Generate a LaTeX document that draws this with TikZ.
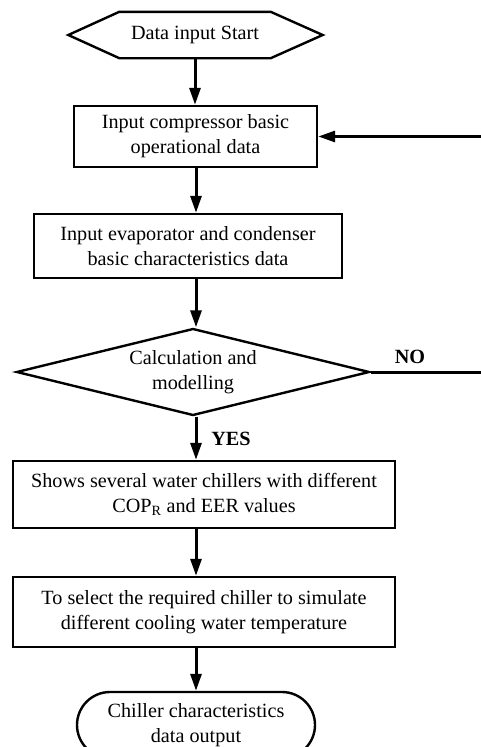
\documentclass[tikz,border=0pt]{standalone}
\usepackage{fontspec}
\setmainfont{Liberation Serif}
\usetikzlibrary{shapes.geometric,shapes.misc,arrows.meta,calc}
\begin{document}
\begin{tikzpicture}[x=1pt,y=-1pt,
  txt/.style={font=\fontsize{20.2}{25}\selectfont},
  box/.style={txt,draw,line width=2.4pt,align=center,inner sep=0pt},
  ar/.style={line width=3pt,-{Triangle[length=17pt,width=11pt]}},
  lbl/.style={font=\fontsize{20.2}{25}\selectfont\bfseries}]
\clip (0,0) rectangle (481,747);
\fill[white] (0,0) rectangle (481,747);
% start hexagon
\node[txt,inner sep=0pt,minimum width=151pt,minimum height=46pt] (start) at (195,35) {Data input Start};
\draw[line width=2.4pt,line join=miter] (start.north west) -- (start.north east) -- ($(start.east)+(52,0)$) -- (start.south east) -- (start.south west) -- ($(start.west)+(-51,0)$) -- cycle;
% boxes
\node[box,minimum width=243pt,minimum height=61pt] (b1) at (195.5,136.5) {Input compressor basic\\operational data};
\node[box,minimum width=308pt,minimum height=64pt] (b2) at (188,246) {Input evaporator and condenser\\basic characteristics data};
\node[txt,draw,diamond,line width=2.4pt,align=center,inner sep=0pt,aspect=4,minimum width=353pt,minimum height=87pt] (d) at (193,372) {Calculation and\\modelling};
\node[box,minimum width=382pt,minimum height=67pt] (b3) at (204,494.5) {Shows several water chillers with different\\COP\textsubscript{R} and EER values};
\node[box,minimum width=382pt,minimum height=70pt] (b4) at (204,612) {To select the required chiller to simulate\\different cooling water temperature};
\node[txt,draw,rounded rectangle,line width=2.4pt,align=center,inner sep=0pt,minimum width=238pt,minimum height=66pt] (t) at (196,725) {Chiller characteristics\\data output};
% labels
\node[lbl] (no) at (410,357) {NO};
\node[lbl] (yes) at (231,439) {YES};
% connectors
\coordinate (ax) at (196,0);
\draw[ar] (start.south) -- (start.south |- b1.north);
\draw[ar] (ax |- b1.south) -- (ax |- b2.north);
\draw[ar] (ax |- b2.south) -- (ax |- d.north);
\draw[ar] (ax |- d.south) -- (ax |- b3.north);
\draw[ar] (ax |- b3.south) -- (ax |- b4.north);
\draw[ar] (ax |- b4.south) -- (t.north);
\coordinate (loop) at (500,0);
\draw[ar] (d.east) -- (loop |- d.east) -- (loop |- b1.east) -- (b1.east);
\end{tikzpicture}
\end{document}
